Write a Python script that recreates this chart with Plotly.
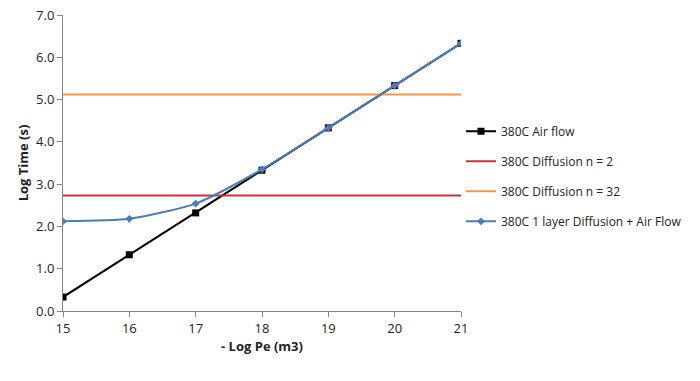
import plotly.graph_objects as go

x_vals = [15, 16, 17, 18, 19, 20, 21]
air_flow = [0.33, 1.33, 2.32, 3.33, 4.33, 5.33, 6.33]
diff_n2 = [2.73, 2.73, 2.73, 2.73, 2.73, 2.73, 2.73]
diff_n32 = [5.12, 5.12, 5.12, 5.12, 5.12, 5.12, 5.12]
combined = [2.12, 2.18, 2.54, 3.35, 4.33, 5.33, 6.33]

names = ["380C Air flow", "380C Diffusion n = 2", "380C Diffusion n = 32",
         "380C 1 layer Diffusion + Air Flow"]

font_family = "Open Sans, Liberation Sans, sans-serif"

fig = go.Figure()
fig.add_trace(go.Scatter(x=x_vals, y=air_flow, name=names[0], mode="lines+markers",
                         line=dict(color="#000000", width=2),
                         marker=dict(symbol="square", size=7, color="#000000"),
                         legendgroup="a"))
fig.add_trace(go.Scatter(x=x_vals, y=diff_n2, name=names[1], mode="lines",
                         line=dict(color="#C8323A", width=2), legendgroup="b"))
fig.add_trace(go.Scatter(x=x_vals, y=diff_n32, name=names[2], mode="lines",
                         line=dict(color="#F79646", width=2), legendgroup="c"))
fig.add_trace(go.Scatter(x=x_vals, y=combined, name=names[3], mode="lines+markers",
                         line=dict(color="#4A7EBB", width=2, shape="spline", smoothing=0.6),
                         marker=dict(symbol="diamond", size=6, color="#4A7EBB"),
                         legendgroup="d"))

fig.update_layout(
    width=700, height=381,
    margin=dict(l=63, r=239, t=15, b=70, autoexpand=False),
    paper_bgcolor="white", plot_bgcolor="white",
    font=dict(family=font_family, size=13, color="#222222"),
    showlegend=True,
    legend=dict(x=1.0, y=0.455, xanchor="left", yanchor="middle",
                tracegroupgap=11, itemwidth=30, bgcolor="rgba(0,0,0,0)",
                font=dict(size=12, color="#222222")),
    xaxis=dict(range=[15, 21], tickvals=x_vals, ticktext=[str(v) for v in x_vals],
               showgrid=False, zeroline=False, showline=True, linecolor="#868686",
               linewidth=1, ticks="outside", ticklen=5, tickcolor="#868686",
               title=dict(text="<b>- Log Pe (m3)</b>", font=dict(size=13), standoff=4),
               tickfont=dict(size=13)),
    yaxis=dict(range=[0, 7], tickvals=[0, 1, 2, 3, 4, 5, 6, 7],
               ticktext=["0.0", "1.0", "2.0", "3.0", "4.0", "5.0", "6.0", "7.0"],
               showgrid=False, zeroline=False, showline=True, linecolor="#868686",
               linewidth=1, ticks="outside", ticklen=5, tickcolor="#868686",
               title=dict(text="<b>Log Time (s)</b>", font=dict(size=13), standoff=4),
               tickfont=dict(size=13)),
)

fig.write_html("out.html", config={"displayModeBar": False},
               post_script="document.body.style.margin='0';")
